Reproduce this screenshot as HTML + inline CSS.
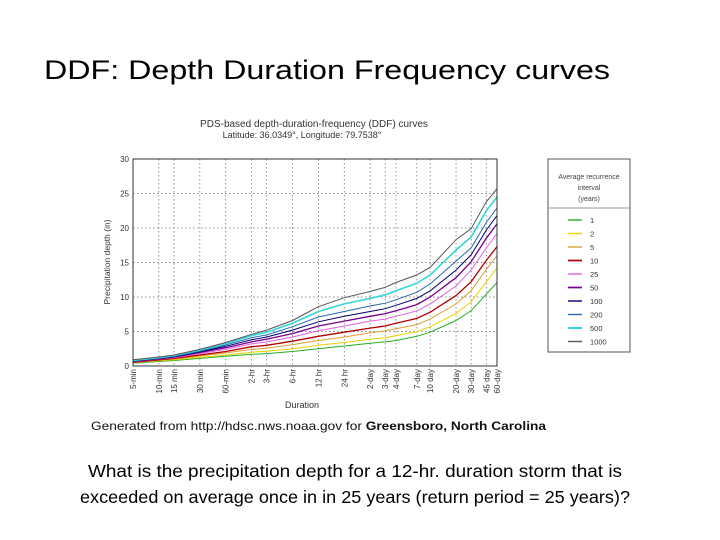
<!DOCTYPE html>
<html><head><meta charset="utf-8"><style>
html,body{margin:0;padding:0;background:#fff;}
svg{display:block;font-family:"Liberation Sans",sans-serif;}
</style></head><body>
<svg id="s" width="720" height="540" viewBox="0 0 720 540">
<text x="44" y="79" font-size="27" textLength="566" lengthAdjust="spacingAndGlyphs" fill="#000">DDF: Depth Duration Frequency curves</text>
<text x="314" y="127" font-size="10" text-anchor="middle" fill="#333">PDS-based depth-duration-frequency (DDF) curves</text>
<text x="302" y="138" font-size="9" text-anchor="middle" fill="#333">Latitude: 36.0349°, Longitude: 79.7538°</text>
<g id="plot"></g>
<text transform="translate(110,262) rotate(-90)" font-size="8.5" text-anchor="middle" fill="#333">Precipitation depth (in)</text>
<text x="302" y="408" font-size="9" text-anchor="middle" fill="#333">Duration</text>
<g>
<rect x="548" y="159" width="82" height="193" fill="#fff" stroke="#555" stroke-width="1"/>
<text x="589" y="179" font-size="7" text-anchor="middle" fill="#444">Average recurrence</text>
<text x="589" y="190" font-size="7" text-anchor="middle" fill="#444">interval</text>
<text x="589" y="201" font-size="7" text-anchor="middle" fill="#444">(years)</text>
<line x1="548" y1="208" x2="630" y2="208" stroke="#999"/>
<g id="leg"></g>
</g>
<text x="91" y="430" font-size="12" textLength="455" lengthAdjust="spacingAndGlyphs" fill="#111">Generated from http://hdsc.nws.noaa.gov for <tspan font-weight="bold">Greensboro, North Carolina</tspan></text>
<text x="88" y="477" font-size="17.5" textLength="534" lengthAdjust="spacingAndGlyphs" fill="#000">What is the precipitation depth for a 12-hr. duration storm that is</text>
<text x="80" y="503" font-size="17.5" textLength="550" lengthAdjust="spacingAndGlyphs" fill="#000">exceeded on average once in in 25 years (return period = 25 years)?</text>
</svg>
<script>
const durLabels=["5-min","10-min","15 min","30 min","60-min","2-hr","3-hr","6-hr","12 hr","24 hr","2-day","3-day","4-day","7-day","10 day","20-day","30-day","45 day","60-day"];
const durMinutes=[5,10,15,30,60,120,180,360,720,1440,2880,4320,5760,10080,14400,28800,43200,64800,86400];
const yTicks=[0,5,10,15,20,25,30];
const seriesNames=["1","2","5","10","25","50","100","200","500","1000"];
const seriesColors=["#22b022","#e8d400","#d8a030","#b00000","#e060e0","#7a0090","#000070","#2a6ab0","#30d8d8","#555555"];
const seriesWidths=[1,1,1,1.3,1,1.3,1,1,1.6,1];
const s1=[.4,.65,.8,1.1,1.4,1.7,1.8,2.1,2.5,2.9,3.3,3.5,3.7,4.3,4.9,6.6,8.0,10.4,12.1];
const s2=[.45,.75,.9,1.25,1.6,2.0,2.15,2.5,3.0,3.4,3.9,4.1,4.4,5.0,5.7,7.6,9.3,12.2,14.2];
const s5=[.5,.85,1.0,1.45,1.9,2.4,2.6,3.1,3.7,4.2,4.8,5.1,5.4,6.0,6.8,9.0,10.9,14.0,16.0];
const s10=[.55,.9,1.1,1.6,2.1,2.8,3.0,3.6,4.3,4.9,5.5,5.8,6.2,6.9,7.8,10.2,12.2,15.3,17.3];
const s25=[.6,1.0,1.2,1.8,2.4,3.2,3.5,4.2,5.1,5.8,6.5,6.8,7.2,8.0,9.0,11.6,13.9,17.1,19.2];
const s50=[.65,1.05,1.3,1.95,2.65,3.5,3.9,4.7,5.8,6.5,7.2,7.6,8.0,8.9,10.0,12.8,15.1,18.5,20.6];
const s100=[.7,1.1,1.35,2.05,2.85,3.8,4.2,5.2,6.4,7.2,7.9,8.3,8.8,9.8,10.9,13.9,16.1,19.7,21.8];
const s200=[.75,1.15,1.4,2.15,3.05,4.1,4.5,5.7,7.1,7.9,8.7,9.1,9.6,10.7,11.9,15.2,17.1,20.8,22.9];
const s500=[.8,1.2,1.5,2.3,3.25,4.4,4.9,6.2,7.9,9.0,9.8,10.3,10.9,12.0,13.2,16.8,18.7,22.5,24.5];
const s1000=[.9,1.3,1.6,2.4,3.4,4.6,5.2,6.6,8.6,9.9,10.8,11.4,12.1,13.2,14.3,18.3,19.9,23.8,25.7];
const allSeries=[s1,s2,s5,s10,s25,s50,s100,s200,s500,s1000];

const NS="http://www.w3.org/2000/svg";
const L=133,R=497,T=159,B=366;
const lmin=Math.log10(5),lmax=Math.log10(86400);
function xs(m){return L+(Math.log10(m)-lmin)/(lmax-lmin)*(R-L);}
function ys(v){return B-v/30*(B-T);}
function mk(tag,attrs,parent){const e=document.createElementNS(NS,tag);for(const k in attrs)e.setAttribute(k,attrs[k]);parent.appendChild(e);return e;}
const plot=document.getElementById('plot');
mk('rect',{x:L,y:T,width:R-L,height:B-T,fill:'#fff'},plot);
yTicks.forEach(v=>{
  const g=mk('line',{x1:L,x2:R,y1:ys(v),y2:ys(v),stroke:'#666','stroke-width':0.7,'stroke-dasharray':'1.5,2.5'},plot);
  
  
  const t=mk('text',{x:L-4,y:ys(v)+3,'font-size':8,'text-anchor':'end',fill:'#333'},plot);
  t.textContent=v;
  
  
});
durMinutes.forEach((m,i)=>{
  const x=xs(m);
  const g=mk('line',{x1:x,x2:x,y1:T,y2:B,stroke:'#666','stroke-width':0.7,'stroke-dasharray':'1.5,2.5'},plot);
  
  
  const t=mk('text',{transform:`translate(${x+3},${B+3}) rotate(-90)`,'font-size':8,'text-anchor':'end',fill:'#333'},plot);
  t.textContent=durLabels[i];
  
  
});
allSeries.forEach((s,k)=>{
  const d=s.map((v,i)=>(i?'L':'M')+xs(durMinutes[i]).toFixed(1)+','+ys(v).toFixed(1)).join(' ');
  const p=mk('path',{d:d,fill:'none',stroke:seriesColors[k],'stroke-width':seriesWidths[k]},plot);
  
  
});
mk('rect',{x:L,y:T,width:R-L,height:B-T,fill:'none',stroke:'#333','stroke-width':1},plot);
const leg=document.getElementById('leg');
seriesNames.forEach((n,k)=>{
  const y=220+k*13.5;
  const l=mk('line',{x1:568,x2:582,y1:y,y2:y,stroke:seriesColors[k],'stroke-width':seriesWidths[k]+0.4},leg);
  
  
  const t=mk('text',{x:590,y:y+3,'font-size':7.5,fill:'#333'},leg);
  t.textContent=n;
  
  
});
</script>
</body></html>
